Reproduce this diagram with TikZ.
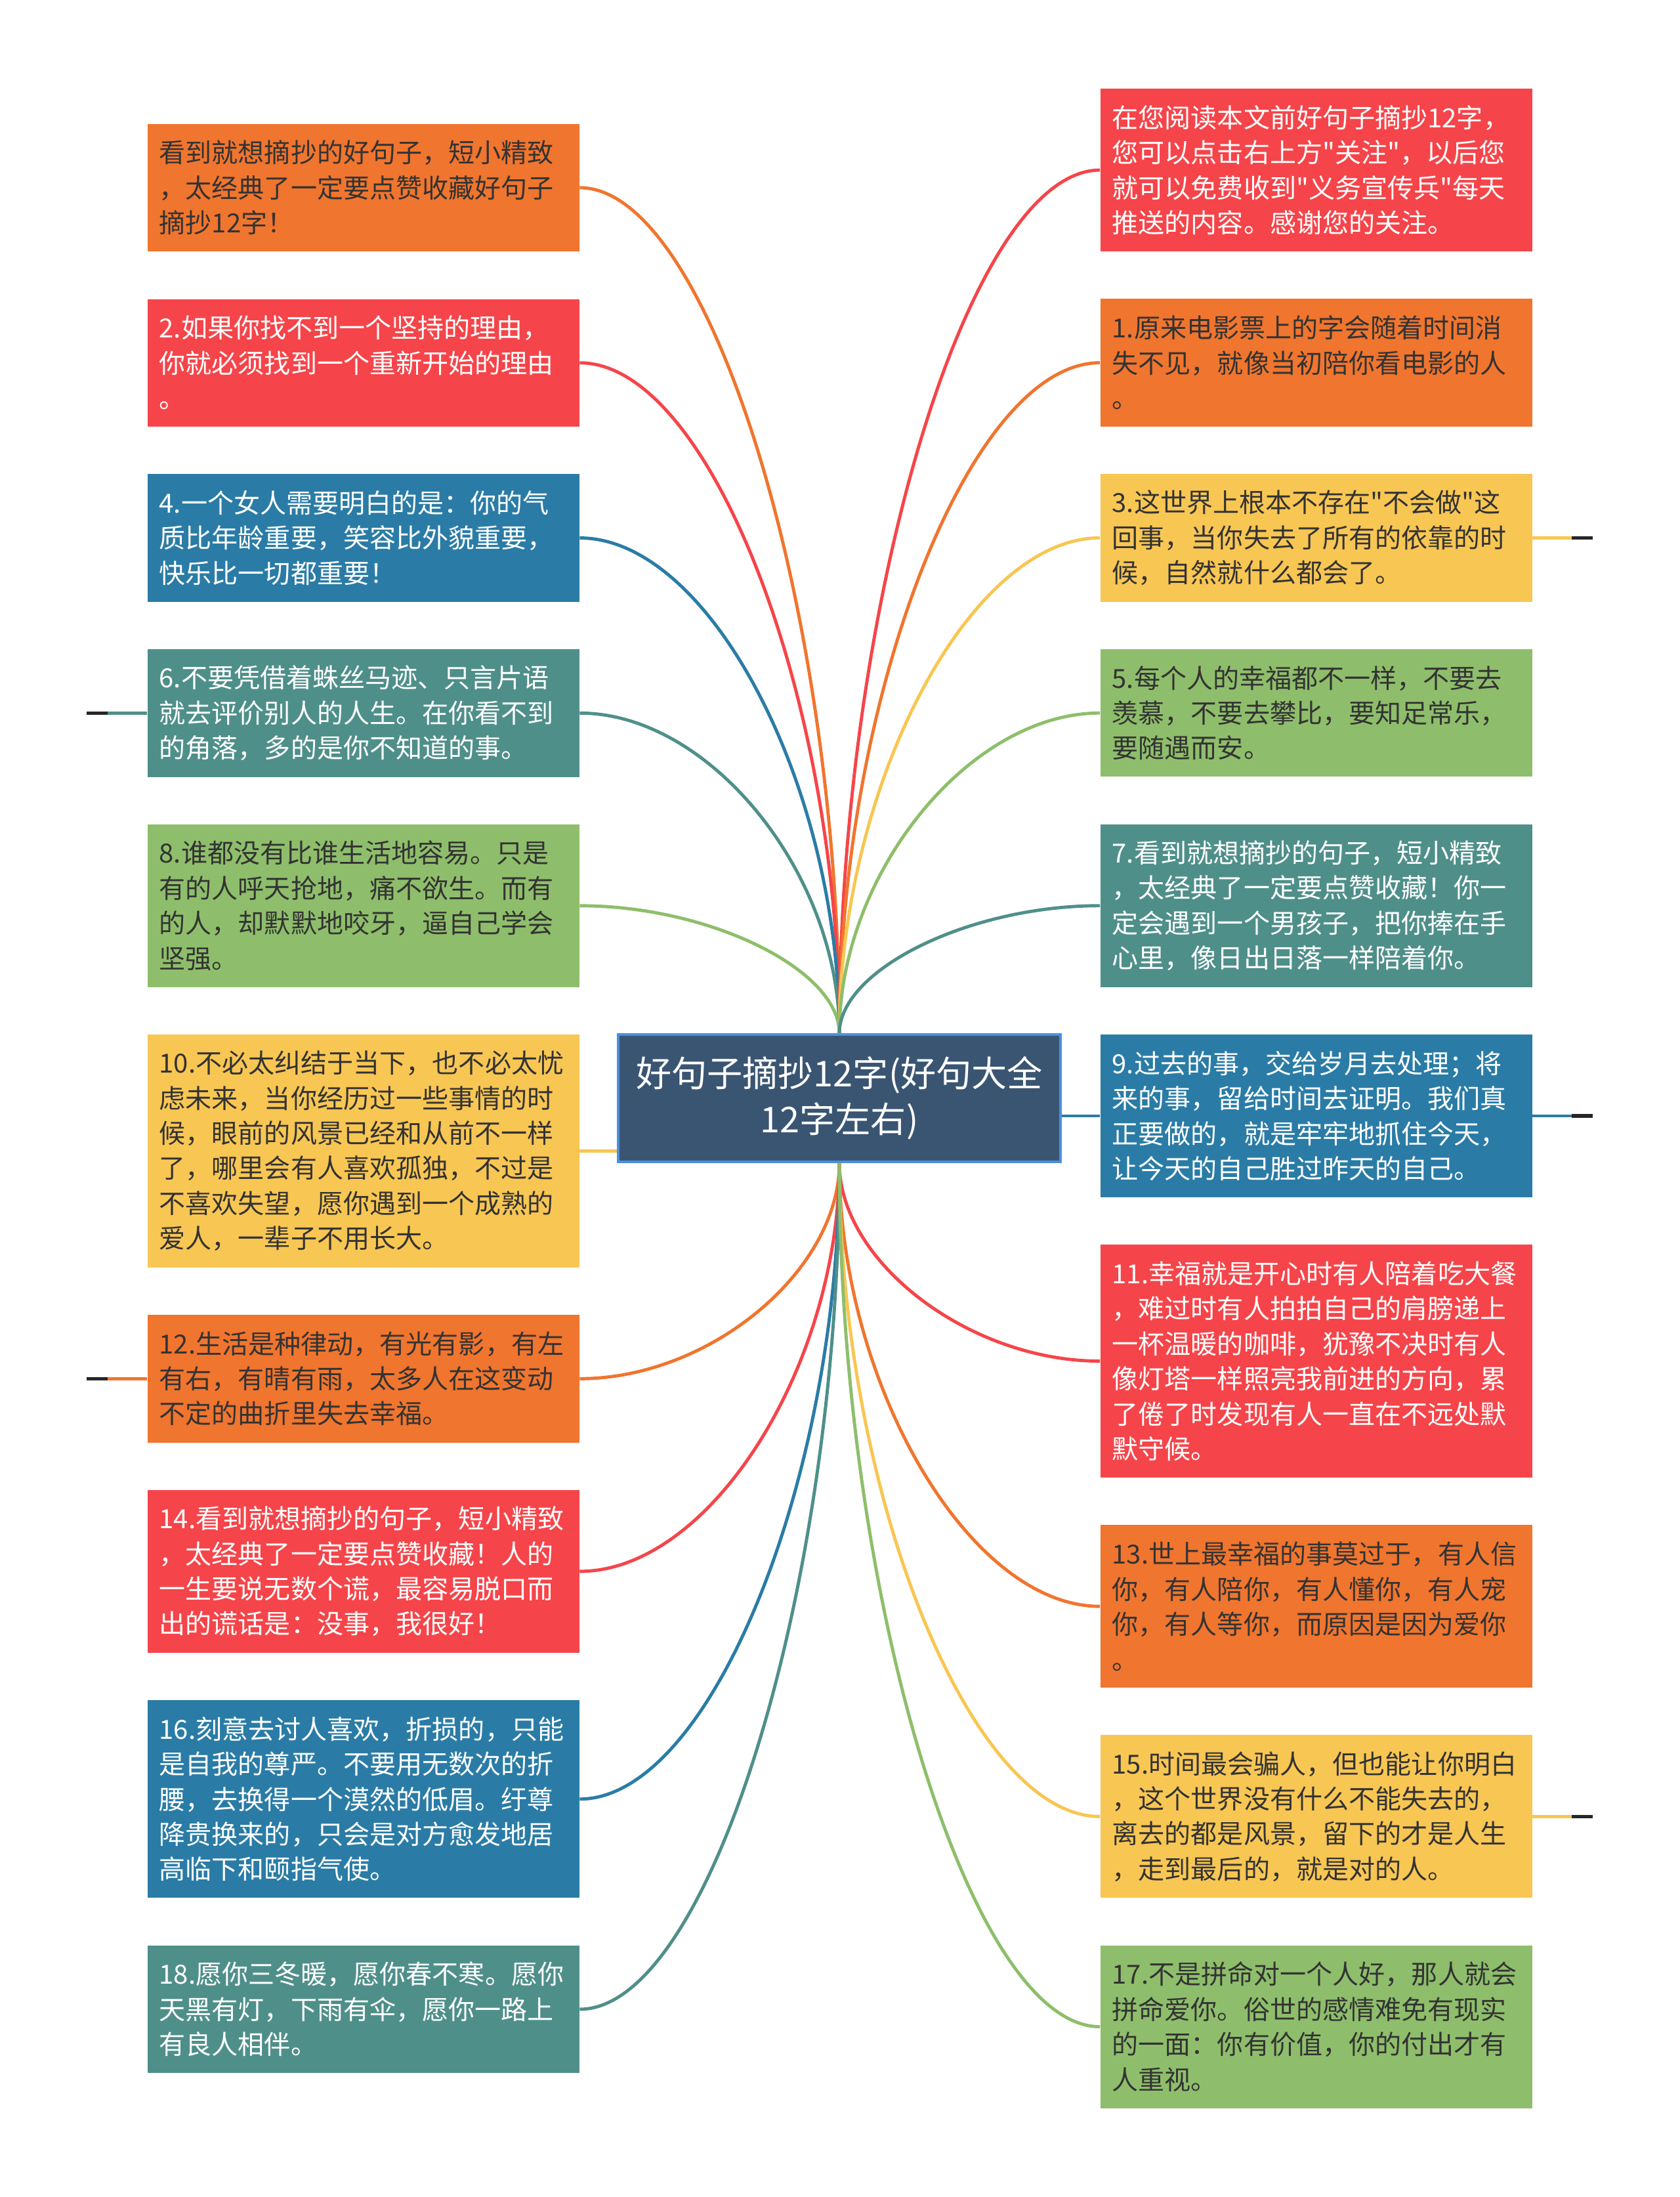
\documentclass[tikz,border=0pt]{standalone}
\usepackage{fontspec}
\newfontfamily\cjk{Noto Sans CJK SC}
\usepackage{tikz}
\usetikzlibrary{positioning,calc}

\definecolor{cOrange}{HTML}{F0752E}
\definecolor{cRed}{HTML}{F5454A}
\definecolor{cBlue}{HTML}{2A7CA6}
\definecolor{cTeal}{HTML}{4F8F8A}
\definecolor{cGreen}{HTML}{8EBE6B}
\definecolor{cYellow}{HTML}{F8C653}
\definecolor{cNavy}{HTML}{3A5572}
\definecolor{cEdge}{HTML}{4A8FE0}
\definecolor{cInk}{HTML}{333333}

\begin{document}
\begin{tikzpicture}
    \tikzstyle{leaf} = [rectangle, text width=6.22cm, inner xsep=0.18cm, inner ysep=0.1cm, align=left, font=\cjk\fontsize{11.4}{15.2}\selectfont]
    \tikzstyle{hub} = [rectangle, fill=cNavy, draw=cEdge, line width=1pt, text=white, minimum width=6.74cm, minimum height=1.94cm, align=center, font=\cjk\fontsize{15.4}{20}\selectfont]
    \tikzstyle{dark} = [text=cInk]
    \tikzstyle{light} = [text=white]
    \tikzstyle{h3} = [minimum height=1.944cm]
    \tikzstyle{h4} = [minimum height=2.478cm]
    \tikzstyle{h5} = [minimum height=3.012cm]
    \tikzstyle{h6} = [minimum height=3.546cm]
    \tikzstyle{branch} = [line width=1.4pt, to path={.. controls ($(\tikztostart)!0.5!(\tikztostart |- \tikztotarget)$) and ($(\tikztotarget)!0.5!(\tikztostart |- \tikztotarget)$) .. (\tikztotarget)}]
    \tikzstyle{tip} = [line width=1.6pt, draw=black!85]
        \useasboundingbox (0,0) rectangle (25.6,-33.47);
        \node (root) [hub] at (12.79,-16.73) {好句子摘抄12字(好句大全\\12字左右)};
        % left column
        \node (l1) [leaf, h3, fill=cOrange, dark, anchor=north west] at (2.24,-1.88) {看到就想摘抄的好句子，短小精致\\，太经典了一定要点赞收藏好句子\\摘抄12字！};
        \node (l2) [leaf, h3, fill=cRed, light, below=0.71cm of l1] {2.如果你找不到一个坚持的理由，\\你就必须找到一个重新开始的理由\\。};
        \node (l4) [leaf, h3, fill=cBlue, light, below=0.71cm of l2] {4.一个女人需要明白的是：你的气\\质比年龄重要，笑容比外貌重要，\\快乐比一切都重要！};
        \node (l6) [leaf, h3, fill=cTeal, light, below=0.71cm of l4] {6.不要凭借着蛛丝马迹、只言片语\\就去评价别人的人生。在你看不到\\的角落，多的是你不知道的事。};
        \node (l8) [leaf, h4, fill=cGreen, dark, below=0.71cm of l6] {8.谁都没有比谁生活地容易。只是\\有的人呼天抢地，痛不欲生。而有\\的人，却默默地咬牙，逼自己学会\\坚强。};
        \node (l10) [leaf, h6, fill=cYellow, dark, below=0.71cm of l8] {10.不必太纠结于当下，也不必太忧\\虑未来，当你经历过一些事情的时\\候，眼前的风景已经和从前不一样\\了，哪里会有人喜欢孤独，不过是\\不喜欢失望，愿你遇到一个成熟的\\爱人，一辈子不用长大。};
        \node (l12) [leaf, h3, fill=cOrange, dark, below=0.71cm of l10] {12.生活是种律动，有光有影，有左\\有右，有晴有雨，太多人在这变动\\不定的曲折里失去幸福。};
        \node (l14) [leaf, h4, fill=cRed, light, below=0.71cm of l12] {14.看到就想摘抄的句子，短小精致\\，太经典了一定要点赞收藏！人的\\一生要说无数个谎，最容易脱口而\\出的谎话是：没事，我很好！};
        \node (l16) [leaf, h5, fill=cBlue, light, below=0.71cm of l14] {16.刻意去讨人喜欢，折损的，只能\\是自我的尊严。不要用无数次的折\\腰，去换得一个漠然的低眉。纡尊\\降贵换来的，只会是对方愈发地居\\高临下和颐指气使。};
        \node (l18) [leaf, h3, fill=cTeal, light, below=0.71cm of l16] {18.愿你三冬暖，愿你春不寒。愿你\\天黑有灯，下雨有伞，愿你一路上\\有良人相伴。};
        % right column
        \node (r0) [leaf, h4, fill=cRed, light, anchor=north west] at (16.76,-1.345) {在您阅读本文前好句子摘抄12字，\\您可以点击右上方"关注"，以后您\\就可以免费收到"义务宣传兵"每天\\推送的内容。感谢您的关注。};
        \node (r1) [leaf, h3, fill=cOrange, dark, below=0.71cm of r0] {1.原来电影票上的字会随着时间消\\失不见，就像当初陪你看电影的人\\。};
        \node (r3) [leaf, h3, fill=cYellow, dark, below=0.71cm of r1] {3.这世界上根本不存在"不会做"这\\回事，当你失去了所有的依靠的时\\候，自然就什么都会了。};
        \node (r5) [leaf, h3, fill=cGreen, dark, below=0.71cm of r3] {5.每个人的幸福都不一样，不要去\\羡慕，不要去攀比，要知足常乐，\\要随遇而安。};
        \node (r7) [leaf, h4, fill=cTeal, light, below=0.71cm of r5] {7.看到就想摘抄的句子，短小精致\\，太经典了一定要点赞收藏！你一\\定会遇到一个男孩子，把你捧在手\\心里，像日出日落一样陪着你。};
        \node (r9) [leaf, h4, fill=cBlue, light, below=0.71cm of r7] {9.过去的事，交给岁月去处理；将\\来的事，留给时间去证明。我们真\\正要做的，就是牢牢地抓住今天，\\让今天的自己胜过昨天的自己。};
        \node (r11) [leaf, h6, fill=cRed, light, below=0.71cm of r9] {11.幸福就是开心时有人陪着吃大餐\\，难过时有人拍拍自己的肩膀递上\\一杯温暖的咖啡，犹豫不决时有人\\像灯塔一样照亮我前进的方向，累\\了倦了时发现有人一直在不远处默\\默守候。};
        \node (r13) [leaf, h4, fill=cOrange, dark, below=0.71cm of r11] {13.世上最幸福的事莫过于，有人信\\你，有人陪你，有人懂你，有人宠\\你，有人等你，而原因是因为爱你\\。};
        \node (r15) [leaf, h4, fill=cYellow, dark, below=0.71cm of r13] {15.时间最会骗人，但也能让你明白\\，这个世界没有什么不能失去的，\\离去的都是风景，留下的才是人生\\，走到最后的，就是对的人。};
        \node (r17) [leaf, h4, fill=cGreen, dark, below=0.71cm of r15] {17.不是拼命对一个人好，那人就会\\拼命爱你。俗世的感情难免有现实\\的一面：你有价值，你的付出才有\\人重视。};
        % branches
        \draw[branch, cOrange] (root.north) to (l1.east);
        \draw[branch, cRed] (root.north) to (l2.east);
        \draw[branch, cBlue] (root.north) to (l4.east);
        \draw[branch, cTeal] (root.north) to (l6.east);
        \draw[branch, cGreen] (root.north) to (l8.east);
        \draw[branch, cYellow] (l10.east -| root.west) -- (l10.east);
        \draw[branch, cOrange] (root.south) to (l12.east);
        \draw[branch, cRed] (root.south) to (l14.east);
        \draw[branch, cBlue] (root.south) to (l16.east);
        \draw[branch, cTeal] (root.south) to (l18.east);
        \draw[branch, cRed] (root.north) to (r0.west);
        \draw[branch, cOrange] (root.north) to (r1.west);
        \draw[branch, cYellow] (root.north) to (r3.west);
        \draw[branch, cGreen] (root.north) to (r5.west);
        \draw[branch, cTeal] (root.north) to (r7.west);
        \draw[branch, cBlue] (r9.west -| root.east) -- (r9.west);
        \draw[branch, cRed] (root.south) to (r11.west);
        \draw[branch, cOrange] (root.south) to (r13.west);
        \draw[branch, cYellow] (root.south) to (r15.west);
        \draw[branch, cGreen] (root.south) to (r17.west);
        % folded ends
        \draw[branch, cTeal] (l6.west) -- ++(-0.6,0) coordinate (k6);
        \draw[tip] (k6) -- ++(-0.32,0);
        \draw[branch, cOrange] (l12.west) -- ++(-0.6,0) coordinate (k12);
        \draw[tip] (k12) -- ++(-0.32,0);
        \draw[branch, cYellow] (r3.east) -- ++(0.6,0) coordinate (k3);
        \draw[tip] (k3) -- ++(0.32,0);
        \draw[branch, cBlue] (r9.east) -- ++(0.6,0) coordinate (k9);
        \draw[tip] (k9) -- ++(0.32,0);
        \draw[branch, cYellow] (r15.east) -- ++(0.6,0) coordinate (k15);
        \draw[tip] (k15) -- ++(0.32,0);
    \end{tikzpicture}
\end{document}
